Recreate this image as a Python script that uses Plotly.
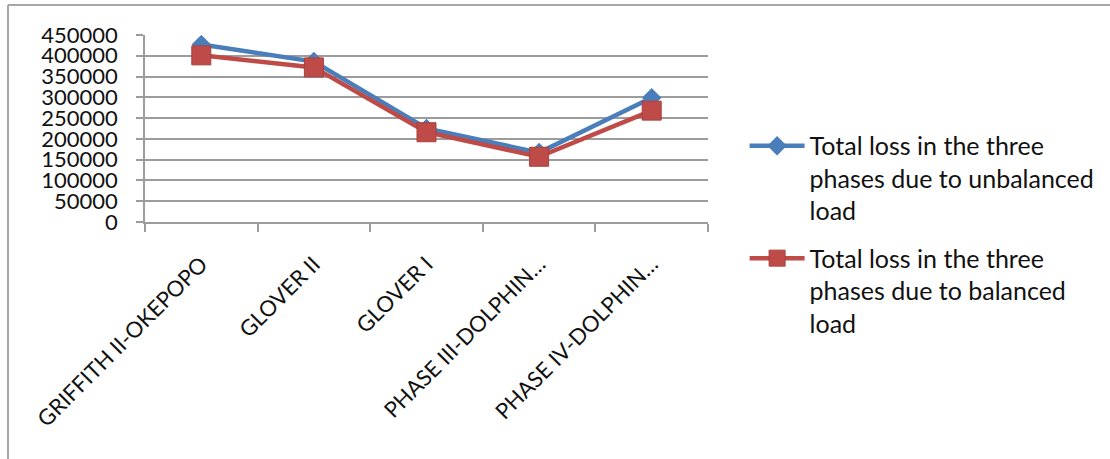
import plotly.graph_objects as go

# Feeder names and total three-phase losses
feeders = ["GRIFFITH II-OKEPOPO", "GLOVER II", "GLOVER I",
           "PHASE III-DOLPHIN…", "PHASE IV-DOLPHIN…"]
loss_unbalanced = [427000, 386000, 225000, 167000, 299000]
loss_balanced = [401000, 372000, 216000, 157000, 268000]

name_unbalanced = "Total loss in the three<br>phases due to unbalanced<br>load"
name_balanced = "Total loss in the three<br>phases due to balanced<br>load"

BLUE = "#4a7ebb"
RED = "#be4b48"
GRID = "#9c9c9c"
FONT = "Lato"

W, H = 1110, 459
L, R, T, B = 145, 708, 35, 222

fig = go.Figure()
fig.add_trace(go.Scatter(
    x=feeders, y=loss_unbalanced, name=name_unbalanced, mode="lines+markers",
    legendgroup="u",
    line=dict(color=BLUE, width=4.5),
    marker=dict(symbol="diamond", size=15, color=BLUE, line=dict(width=0)),
))
fig.add_trace(go.Scatter(
    x=feeders, y=loss_balanced, name=name_balanced, mode="lines+markers",
    legendgroup="b",
    line=dict(color=RED, width=4.5),
    marker=dict(symbol="square", size=19, color=RED,
                line=dict(color="#a8403d", width=1)),
))

# outer frame (left and top edges visible)
fx0 = (8 - L) / (R - L)
fy1 = (B - 5) / (B - T)
fig.add_shape(type="line", xref="paper", yref="paper", x0=fx0, x1=fx0,
              y0=fy1, y1=-2, line=dict(color="#a6a6a6", width=2))
fig.add_shape(type="line", xref="paper", yref="paper", x0=fx0, x1=3,
              y0=fy1, y1=fy1, line=dict(color="#a6a6a6", width=2))

fig.update_layout(
    width=W, height=H,
    margin=dict(l=L, r=W - R, t=T, b=H - B, autoexpand=False),
    paper_bgcolor="white", plot_bgcolor="white",
    font=dict(family=FONT, color="#111111"),
    showlegend=True,
    legend=dict(
        x=1.065, y=0.53, xanchor="left", yanchor="top",
        font=dict(family=FONT, size=25, color="#111111"),
        valign="top", tracegroupgap=12, itemwidth=55,
        maxheight=420,
        bgcolor="rgba(0,0,0,0)",
    ),
)
fig.update_xaxes(
    type="category", showgrid=False, showline=True, linecolor=GRID, linewidth=1.5,
    ticks="outside", ticklen=8, tickcolor=GRID, tickwidth=1.5, tickson="boundaries",
    tickangle=-45, tickfont=dict(family=FONT, size=22, color="#111111"),
    ticklabelstandoff=19,
    range=[-0.5, 4.5], zeroline=False,
)
fig.update_yaxes(
    range=[0, 450000], dtick=50000, tickformat="d",
    showgrid=True, gridcolor=GRID, gridwidth=1.5,
    showline=True, linecolor=GRID, linewidth=1.5,
    ticks="outside", ticklen=7, tickcolor=GRID, tickwidth=1.5,
    tickfont=dict(family=FONT, size=22, color="#111111"),
    ticklabelstandoff=14, zeroline=False,
)

fig.write_html("out.html")
